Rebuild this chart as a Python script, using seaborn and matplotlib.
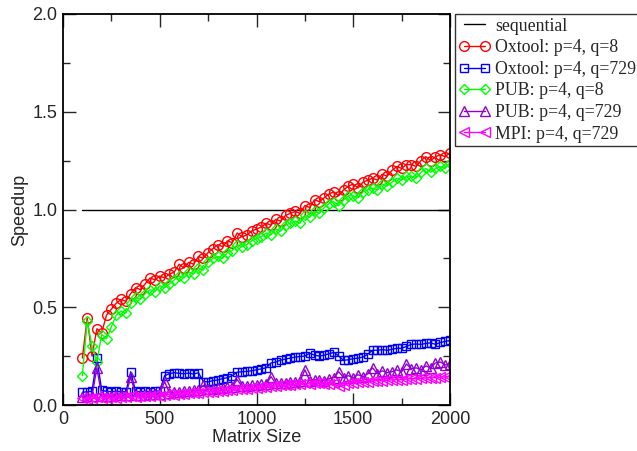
import matplotlib
matplotlib.use("Agg")
import matplotlib.pyplot as plt
import seaborn as sns
import pandas as pd
from matplotlib.ticker import MultipleLocator

sizes = [100, 125, 150, 175, 200, 225, 250, 275, 300, 325, 350, 375, 400, 425, 450, 475,
         500, 525, 550, 575, 600, 625, 650, 675, 700, 725, 750, 775, 800, 825, 850, 875,
         900, 925, 950, 975, 1000, 1025, 1050, 1075, 1100, 1125, 1150, 1175, 1200, 1225,
         1250, 1275, 1300, 1325, 1350, 1375, 1400, 1425, 1450, 1475, 1500, 1525, 1550,
         1575, 1600, 1625, 1650, 1675, 1700, 1725, 1750, 1775, 1800, 1825, 1850, 1875,
         1900, 1925, 1950, 1975, 2000]

seq_x = [100, 2000]
seq_y = [1.0, 1.0]

oxtool_q8 = [0.24, 0.445, 0.25, 0.39, 0.37, 0.46, 0.49, 0.52, 0.54, 0.53, 0.57, 0.60, 0.59,
             0.62, 0.65, 0.64, 0.66, 0.65, 0.67, 0.68, 0.72, 0.70, 0.73, 0.72, 0.76, 0.75,
             0.78, 0.80, 0.82, 0.81, 0.84, 0.83, 0.88, 0.86, 0.87, 0.89, 0.90, 0.91, 0.93,
             0.92, 0.95, 0.94, 0.97, 0.98, 0.99, 0.98, 1.02, 1.01, 1.05, 1.04, 1.06, 1.08,
             1.09, 1.07, 1.10, 1.12, 1.13, 1.11, 1.14, 1.15, 1.16, 1.15, 1.18, 1.17, 1.20,
             1.22, 1.21, 1.23, 1.23, 1.22, 1.25, 1.27, 1.25, 1.27, 1.28, 1.27, 1.29]

oxtool_q729 = [0.065, 0.068, 0.07, 0.24, 0.075, 0.07, 0.068, 0.07, 0.068, 0.067, 0.17, 0.07,
               0.068, 0.07, 0.068, 0.07, 0.072, 0.15, 0.16, 0.165, 0.162, 0.16, 0.163, 0.158,
               0.165, 0.12, 0.118, 0.125, 0.128, 0.135, 0.14, 0.15, 0.168, 0.17, 0.172, 0.175,
               0.18, 0.185, 0.19, 0.215, 0.22, 0.23, 0.235, 0.24, 0.245, 0.248, 0.25, 0.265,
               0.255, 0.25, 0.255, 0.262, 0.27, 0.25, 0.228, 0.232, 0.237, 0.24, 0.245, 0.26,
               0.28, 0.28, 0.283, 0.28, 0.285, 0.29, 0.29, 0.30, 0.31, 0.312, 0.31, 0.315,
               0.318, 0.31, 0.32, 0.325, 0.33]

pub_q8 = [0.15, 0.43, 0.30, 0.22, 0.36, 0.34, 0.40, 0.46, 0.48, 0.47, 0.52, 0.55, 0.54, 0.57,
          0.59, 0.58, 0.61, 0.60, 0.62, 0.64, 0.66, 0.65, 0.68, 0.67, 0.70, 0.69, 0.73, 0.75,
          0.76, 0.75, 0.78, 0.79, 0.82, 0.81, 0.82, 0.84, 0.85, 0.86, 0.88, 0.87, 0.90, 0.89,
          0.92, 0.93, 0.94, 0.93, 0.97, 0.96, 0.99, 0.98, 1.01, 1.03, 1.04, 1.02, 1.05, 1.07,
          1.07, 1.06, 1.09, 1.10, 1.11, 1.10, 1.13, 1.12, 1.14, 1.16, 1.15, 1.17, 1.17, 1.16,
          1.19, 1.21, 1.19, 1.21, 1.22, 1.21, 1.24]

pub_q729 = [0.04, 0.045, 0.045, 0.19, 0.045, 0.045, 0.048, 0.05, 0.05, 0.05, 0.145, 0.05,
            0.052, 0.052, 0.055, 0.055, 0.058, 0.12, 0.062, 0.065, 0.068, 0.07, 0.072, 0.075,
            0.078, 0.10, 0.08, 0.082, 0.085, 0.088, 0.09, 0.092, 0.13, 0.095, 0.098, 0.10,
            0.102, 0.105, 0.108, 0.145, 0.11, 0.112, 0.115, 0.118, 0.12, 0.122, 0.18, 0.125,
            0.13, 0.128, 0.125, 0.135, 0.14, 0.17, 0.14, 0.15, 0.14, 0.155, 0.145, 0.16, 0.19,
            0.16, 0.175, 0.165, 0.17, 0.18, 0.17, 0.21, 0.185, 0.19, 0.18, 0.20, 0.19, 0.215,
            0.22, 0.205, 0.21]

mpi_q729 = [0.035, 0.03, 0.035, 0.04, 0.035, 0.038, 0.04, 0.038, 0.042, 0.04, 0.045, 0.042,
            0.045, 0.048, 0.046, 0.05, 0.048, 0.052, 0.055, 0.053, 0.058, 0.056, 0.06, 0.062,
            0.06, 0.065, 0.068, 0.066, 0.07, 0.073, 0.075, 0.078, 0.08, 0.083, 0.082, 0.086,
            0.088, 0.09, 0.092, 0.095, 0.097, 0.10, 0.10, 0.103, 0.105, 0.108, 0.11, 0.108,
            0.112, 0.11, 0.105, 0.108, 0.11, 0.095, 0.10, 0.11, 0.115, 0.118, 0.12, 0.118,
            0.122, 0.125, 0.123, 0.127, 0.128, 0.13, 0.13, 0.133, 0.135, 0.134, 0.137, 0.138,
            0.14, 0.14, 0.142, 0.143, 0.145]

labels = ["sequential", "Oxtool: p=4, q=8", "Oxtool: p=4, q=729", "PUB: p=4, q=8",
          "PUB: p=4, q=729", "MPI: p=4, q=729"]
colors = ["#000000", "#ff0000", "#0000ff", "#00ff00", "#9400d3", "#ff00ff"]
markers = [None, "o", "s", "D", "^", "<"]
msizes = [0, 7, 6, 5.5, 6.5, 6.5]

sns.set_style("ticks")
plt.rcParams["font.family"] = ["Liberation Sans", "DejaVu Sans"]

fig = plt.figure(figsize=(6.37, 4.51), dpi=100)
ax = fig.add_axes([63 / 637, 1 - 405 / 451, (450 - 63) / 637, (405 - 14) / 451])

series = [(seq_x, seq_y), (sizes, oxtool_q8), (sizes, oxtool_q729), (sizes, pub_q8),
          (sizes, pub_q729), (sizes, mpi_q729)]

for (xs, ys), lab, col, mk, ms in zip(series, labels, colors, markers, msizes):
    df = pd.DataFrame({"x": xs, "y": ys})
    kw = {}
    if mk is not None:
        kw = dict(marker=mk, markersize=ms, markerfacecolor="none",
                  markeredgecolor=col, markeredgewidth=1.0)
    sns.lineplot(data=df, x="x", y="y", ax=ax, color=col, linewidth=1.0,
                 estimator=None, sort=False, label=lab, **kw)

ax.set_xlim(0, 2000)
ax.set_ylim(0, 2.0)
ax.xaxis.set_major_locator(MultipleLocator(500))
ax.xaxis.set_minor_locator(MultipleLocator(250))
ax.yaxis.set_major_locator(MultipleLocator(0.5))
ax.yaxis.set_minor_locator(MultipleLocator(0.25))
ax.yaxis.set_major_formatter(matplotlib.ticker.FormatStrFormatter("%.1f"))
ax.tick_params(which="major", direction="in", length=9, width=1, top=True, right=True,
               labelsize=13, pad=4)
ax.tick_params(which="minor", direction="in", length=5, width=1, top=True, right=True)
for s in ax.spines.values():
    s.set_linewidth(1.3)
    s.set_color("black")
ax.set_xlabel("Matrix Size", fontsize=13, labelpad=1)
ax.set_ylabel("Speedup", fontsize=13, labelpad=3)

handles, labs = ax.get_legend_handles_labels()
leg = ax.legend(handles, labs, loc="upper left", bbox_to_anchor=(455 / 637, 1 - 14 / 451),
                bbox_transform=fig.transFigure, numpoints=2, handlelength=1.8,
                handletextpad=0.25, borderaxespad=0, borderpad=0.2, labelspacing=0.26,
                fancybox=False, frameon=True,
                prop={"family": "Liberation Serif", "size": 12.8})
leg.get_frame().set_edgecolor("black")
leg.get_frame().set_linewidth(1.0)

fig.savefig("out.png", dpi=100)
